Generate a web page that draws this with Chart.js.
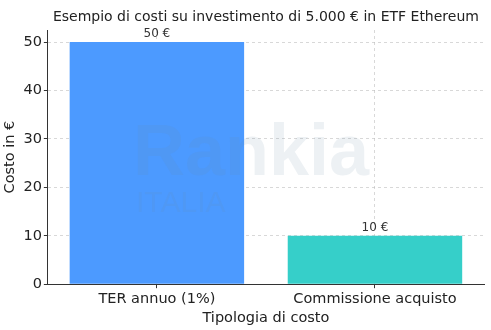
<!DOCTYPE html>
<html>
<head>
<meta charset="utf-8">
<script src="https://cdn.jsdelivr.net/npm/chart.js@4.4.1/dist/chart.umd.min.js"></script>
<style>
  html, body { margin: 0; padding: 0; background: #fff; }
  #wrap { width: 491px; height: 330px; }
</style>
</head>
<body>
<div id="wrap"><canvas id="chart"></canvas></div>
<script>
// data
const titleText = "Esempio di costi su investimento di 5.000 € in ETF Ethereum";
const categories = ["TER annuo (1%)", "Commissione acquisto"];
const costs = [50, 10];
const barColors = ["#4c9aff", "#36cfc9"];
const yTicks = [0, 10, 20, 30, 40, 50];

const FONT = "'DejaVu Sans', sans-serif";

// title centred over the plot, value labels above bars, faint watermark
const extras = {
  id: "extras",
  afterDatasetsDraw(chart) {
    const ctx = chart.ctx;
    const area = chart.chartArea;
    const meta = chart.getDatasetMeta(0);
    ctx.save();
    ctx.font = "14px " + FONT;
    ctx.fillStyle = "#222";
    ctx.textAlign = "center";
    ctx.textBaseline = "middle";
    ctx.fillText(titleText, (area.left + area.right) / 2, 17);

    ctx.font = "12px " + FONT;
    ctx.fillStyle = "#333";
    ctx.textBaseline = "bottom";
    meta.data.forEach((bar, i) => {
      ctx.fillText(costs[i] + " €", bar.x, bar.y - 2);
    });
    // watermark
    ctx.globalAlpha = 0.12;
    ctx.fillStyle = "#6b8aa8";
    ctx.textAlign = "left";
    ctx.textBaseline = "alphabetic";
    ctx.font = "bold 72px 'Liberation Sans', sans-serif";
    ctx.fillText("Rankia", 133, 175);
    ctx.font = "30px 'Liberation Sans', sans-serif";
    ctx.fillText("ITALIA", 136, 212);
    ctx.restore();
  }
};

new Chart(document.getElementById("chart"), {
  type: "bar",
  data: {
    labels: categories,
    datasets: [{
      data: costs,
      backgroundColor: barColors,
      borderWidth: 0,
      barPercentage: 0.8,
      categoryPercentage: 1.0
    }]
  },
  options: {
    responsive: true,
    maintainAspectRatio: false,
    animation: false,
    layout: { padding: { left: 2, right: 7, top: 30, bottom: 3 } },
    plugins: {
      legend: { display: false },
      tooltip: { enabled: false },
      title: { display: false }
    },
    scales: {
      x: {
        z: 1,
        grid: {
          offset: false,
          color: "rgba(190,190,190,0.6)",
          tickColor: "#333",
          tickBorderDash: [],
          tickLength: 4
        },
        border: { color: "#333", width: 1, dash: [3, 3] },
        ticks: { color: "#222", font: { family: FONT, size: 14.5 }, padding: 2 },
        title: {
          display: true,
          text: "Tipologia di costo",
          color: "#222",
          font: { family: FONT, size: 14.5 },
          padding: { top: 0, bottom: 0 }
        }
      },
      y: {
        z: 1,
        min: 0,
        max: 52.5,
        afterBuildTicks: (scale) => { scale.ticks = yTicks.map(v => ({ value: v })); },
        grid: {
          color: "rgba(190,190,190,0.6)",
          tickColor: "#333",
          tickBorderDash: [],
          tickLength: 4
        },
        border: { color: "#333", width: 1, dash: [3, 3] },
        ticks: { color: "#222", font: { family: FONT, size: 14.5 }, padding: 2 },
        title: {
          display: true,
          text: "Costo in €",
          color: "#222",
          font: { family: FONT, size: 14.5 },
          padding: { top: 0, bottom: 2 }
        }
      }
    }
  },
  plugins: [extras]
});
</script>
</body>
</html>
